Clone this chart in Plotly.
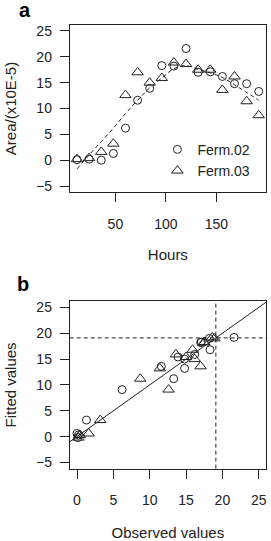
import plotly.graph_objects as go

# ---- data ----
hours = [12, 24, 36, 48, 60, 72, 84, 96, 108, 120, 132, 144, 156, 168, 180, 192]
ferm02 = [0.1, 0.2, 0.0, 1.3, 6.2, 11.6, 13.9, 18.3, 18.2, 21.6, 17.0, 17.1, 16.2, 14.8, 14.8, 13.3]
ferm03 = [0.2, 0.4, 1.6, 3.2, 12.6, 17.0, 15.0, 15.9, 18.9, 18.6, 17.5, 17.5, 13.6, 16.2, 11.4, 8.7]
curve = [-1.7, 1.0, 3.6, 6.2, 9.0, 11.6, 14.0, 15.9, 17.7, 18.3, 17.6, 16.9, 16.0, 14.6, 13.1, 11.6]
fitted = [-0.2, 0.3, 0.6, 3.2, 9.1, 13.6, 15.4, 16.8, 19.0, 19.2, 18.2, 18.3, 15.9, 15.0, 13.2, 11.2]
ref_level = 19.1
y_ticks = [-5, 0, 5, 10, 15, 20, 25]
x_ticks_a = [50, 100, 150]
x_ticks_b = [0, 5, 10, 15, 20, 25]

W, H = 271, 541
FONT = "Liberation Sans, Arial, Helvetica, sans-serif"
INK = "#222222"


def px_x(p):
    return p / W


def px_y(p):
    return 1 - p / H


fig = go.Figure()

mk_c = dict(symbol="circle-open", size=8, color=INK, line=dict(width=1, color=INK))
mk_t = dict(symbol="triangle-up-open", size=10, color=INK, line=dict(width=1, color=INK))

# panel a
fig.add_trace(go.Scatter(x=hours, y=curve, mode="lines", line=dict(color=INK, width=1, dash="4px,3px", shape="spline"),
                         showlegend=False, xaxis="x", yaxis="y", hoverinfo="skip"))
fig.add_trace(go.Scatter(x=hours, y=ferm02, mode="markers", marker=mk_c, name="Ferm.02", xaxis="x", yaxis="y"))
fig.add_trace(go.Scatter(x=hours, y=ferm03, mode="markers", marker=mk_t, name="Ferm.03", xaxis="x", yaxis="y"))

# panel b
xb_range = [-1, 26]
yb_range = [-6.2, 26.2]
diag = [-10, 40]
fig.add_trace(go.Scatter(x=diag, y=diag, mode="lines", line=dict(color=INK, width=1), showlegend=False,
                         xaxis="x2", yaxis="y2", hoverinfo="skip"))
fig.add_trace(go.Scatter(x=ferm02, y=fitted, mode="markers", marker=mk_c, showlegend=False, xaxis="x2", yaxis="y2"))
fig.add_trace(go.Scatter(x=ferm03, y=fitted, mode="markers", marker=mk_t, showlegend=False, xaxis="x2", yaxis="y2"))

fig.add_shape(type="line", xref="x2 domain", x0=0, x1=1, yref="y2", y0=ref_level, y1=ref_level,
              line=dict(color=INK, width=1, dash="4px,3px"))
fig.add_shape(type="line", xref="x2", x0=ref_level, x1=ref_level, yref="y2 domain", y0=0, y1=1,
              line=dict(color=INK, width=1, dash="4px,3px"))

axis_common = dict(showline=True, mirror=True, linecolor=INK, linewidth=1, ticks="outside", ticklen=9,
                   tickcolor=INK, tickwidth=1, showgrid=False, zeroline=False,
                   tickfont=dict(family=FONT, size=14, color=INK), title_font=dict(family=FONT, size=15, color=INK))

xdom = [px_x(70), px_x(267)]
fig.update_layout(
    width=W, height=H,
    margin=dict(l=0, r=0, t=0, b=0),
    paper_bgcolor="white", plot_bgcolor="white",
    font=dict(family=FONT, size=14, color=INK),
    xaxis=dict(axis_common, domain=xdom, anchor="y", range=[4.8, 199.2], tickvals=x_ticks_a,
               ticklabelstandoff=10, title=dict(text="Hours", standoff=18)),
    yaxis=dict(axis_common, domain=[px_y(192), px_y(23)], anchor="x", range=[-6.2, 26.2], tickvals=y_ticks,
               ticklabelstandoff=5, title=dict(text="Area/(x10E-5)", standoff=15)),
    xaxis2=dict(axis_common, domain=xdom, anchor="y2", range=xb_range, tickvals=x_ticks_b,
                ticklabelstandoff=10, title=dict(text="Observed values", standoff=22)),
    yaxis2=dict(axis_common, domain=[px_y(471), px_y(302)], anchor="x2", range=yb_range, tickvals=y_ticks,
                ticklabelstandoff=5, title=dict(text="Fitted values", standoff=15)),
    legend=dict(x=px_x(158), y=px_y(133), xanchor="left", yanchor="top", bgcolor="rgba(0,0,0,0)",
                font=dict(family=FONT, size=14, color=INK), tracegroupgap=0, itemwidth=30),
    annotations=[
        dict(text="<b>a</b>", x=px_x(17), y=px_y(8), xref="paper", yref="paper", showarrow=False,
             xanchor="left", yanchor="middle", font=dict(family=FONT, size=20, color="black")),
        dict(text="<b>b</b>", x=px_x(15), y=px_y(285), xref="paper", yref="paper", showarrow=False,
             xanchor="left", yanchor="middle", font=dict(family=FONT, size=20, color="black")),
    ],
)

fig.write_html("out.html")
